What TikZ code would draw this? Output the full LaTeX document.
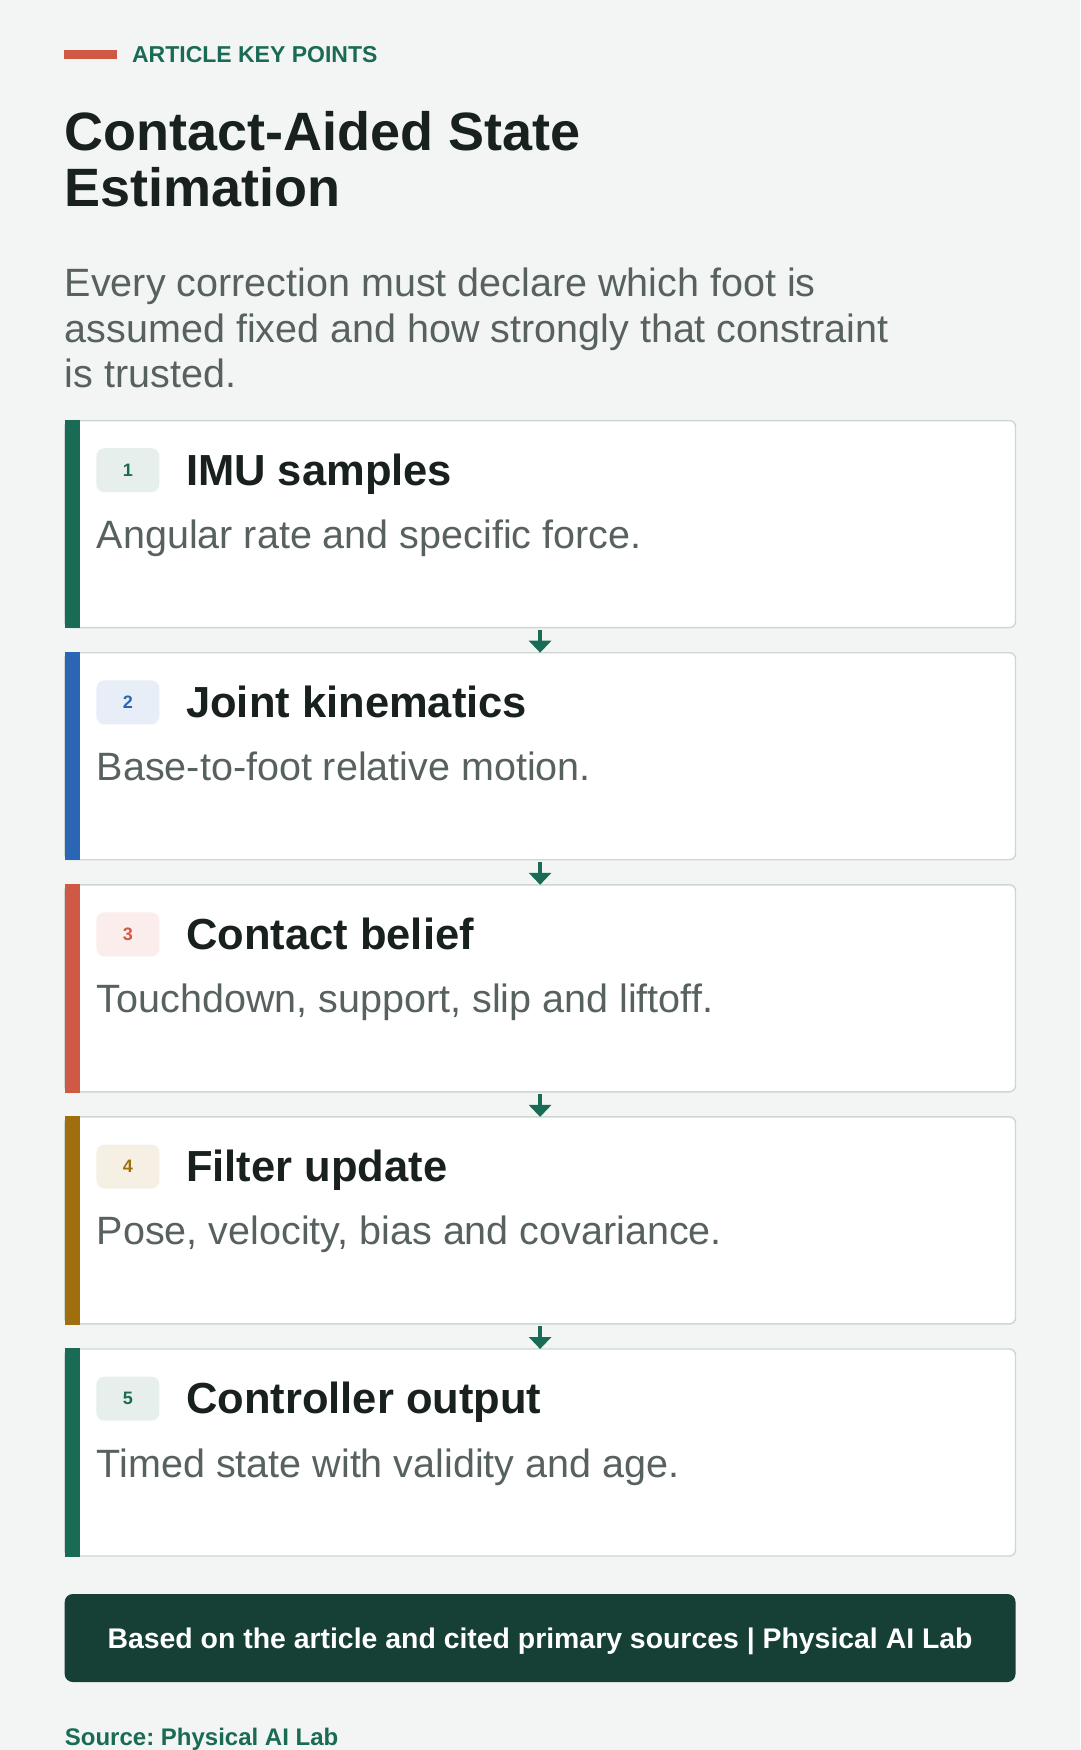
\documentclass[tikz,border=0pt]{standalone}
\usepackage{fontspec}
\setmainfont{Liberation Sans}
\usetikzlibrary{chains,positioning,arrows.meta}
\frenchspacing

\definecolor{bg}{HTML}{F3F5F4}
\definecolor{ink}{HTML}{18211E}
\definecolor{muted}{HTML}{57625E}
\definecolor{cardline}{HTML}{CDD6D3}
\definecolor{kgreen}{HTML}{1A6B56}
\definecolor{kblue}{HTML}{2A66B3}
\definecolor{kred}{HTML}{CF5945}
\definecolor{kgold}{HTML}{A16E0E}
\definecolor{foot}{HTML}{163F35}

\begin{document}
\begin{tikzpicture}[x=1pt, y=-1pt,
node distance=25.1pt,
 start chain = C going below,
    X/.style = {rectangle, draw=cardline, line width=1.4pt, fill=white,% cards in chain
                rounded corners=6pt,
                minimum width=950.8pt, minimum height=207pt,
                inner sep=0pt, outer sep=0pt, on chain},
    N/.style = {rectangle, rounded corners=8pt,% number badges
                minimum width=63pt, minimum height=44pt, inner sep=0pt,
                font=\fontsize{18}{18}\selectfont\bfseries, anchor=north west},
    H/.style = {inner sep=0pt, anchor=base west, text=ink,
                font=\fontsize{43.5}{43.5}\selectfont\bfseries},
    D/.style = {inner sep=0pt, anchor=base west, text=muted,
                font=\fontsize{39.5}{39.5}\selectfont},
    A/.style = {draw=kgreen, line width=4pt,% arrows between cards
                -{Triangle[width=22pt,length=12pt]}},
                        ]
\useasboundingbox (0,0) rectangle (1080,1750);
\fill[bg] (0,0) rectangle (1080,1750);
% header (multi-line nodes sit on their last baseline)
\node[fill=kred, minimum width=52.7pt, minimum height=8.5pt, inner sep=0pt] (bar) at (90.35,54.5) {};
\node[right=15pt of bar, inner sep=0pt, text=kgreen,
      font=\fontsize{23}{23}\selectfont\bfseries] (kicker) {ARTICLE KEY POINTS};
\node[anchor=base west, inner sep=0pt, align=left, text=ink,
      font=\fontsize{54}{56.7}\selectfont\bfseries] (title) at (64.7,206.7)
      {Contact-Aided State\\Estimation};
\node[anchor=base west, inner sep=0pt, align=left, text=muted,
      font=\fontsize{39.5}{45.5}\selectfont] (lead) at (64.7,387.5)
      {Every correction must declare which foot is\\assumed fixed and how strongly that constraint\\is trusted.};
% cards
\begin{scope}[shift={(540.1,524.1)}]
\foreach \c/\h/\d [count=\i] in {kgreen/IMU samples/Angular rate and specific force.,
                                  kblue/Joint kinematics/Base-to-foot relative motion.,
                                  kred/Contact belief/{Touchdown, support, slip and liftoff.},
                                  kgold/Filter update/{Pose, velocity, bias and covariance.},
                                  kgreen/Controller output/Timed state with validity and age.}% <-- content of cards
{
    \node[X] {};
    \fill[\c] ([yshift=0.7pt]C-\i.north west) rectangle ([xshift=15pt,yshift=-0.7pt]C-\i.south west);
    \node[N, fill=\c!11!white, text=\c] (n\i) at ([xshift=31.5pt,yshift=-27.4pt]C-\i.north west) {\i};
    \node[H] (h\i) at ([xshift=121.3pt,yshift=-64.5pt]C-\i.north west) {\h};
    \node[D] (d\i) at ([xshift=32pt,yshift=-128pt]C-\i.north west) {\d};
}
\end{scope}
\foreach \i [evaluate=\i as \j using int(\i+1)] in {1,...,4}
    \draw[A] ([yshift=-2pt]C-\i.south) -- (C-\j.north);
% footer
\node[fill=foot, rounded corners=8pt, minimum width=950.8pt, minimum height=88pt,
      text=white, font=\fontsize{28.4}{28.4}\selectfont\bfseries,
      text height=20pt, text depth=0pt] (foot) at (540.1,1638)
      {Based on the article and cited primary sources | Physical AI Lab};
\node[anchor=base west, inner sep=0pt, text=kgreen,
      font=\fontsize{24}{24}\selectfont\bfseries] (src) at (64.7,1745) {Source: Physical AI Lab};
\end{tikzpicture}
\end{document}
